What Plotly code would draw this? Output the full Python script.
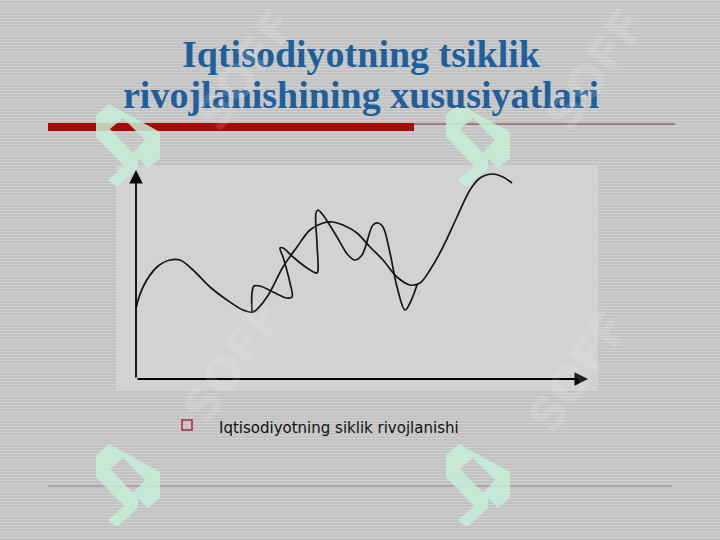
import plotly.graph_objects as go

W, H = 720, 540

# ---- data (arbitrary units, origin at the axes corner) ----
trend_x = [0, 7, 21, 34, 44, 57, 74, 91, 107, 117, 131, 147, 161, 174, 187, 197,
           207, 221, 234, 247, 261, 274, 284, 294, 307, 321, 334, 344, 357, 367, 376]
trend_y = [71, 92, 112, 119, 119, 109, 92, 79, 69, 67, 82, 112, 132, 149, 156, 157,
           154, 146, 132, 119, 102, 94, 96, 109, 132, 162, 189, 201, 205, 202, 196]
wave_x = [116, 116, 118, 124, 137, 151, 156, 154, 147, 144, 147, 157, 171, 181, 182, 181,
          180, 182, 187, 201, 212, 219, 226, 237, 242, 247, 254, 261, 269, 274, 281]
wave_y = [67, 86, 93, 93, 87, 81, 82, 96, 122, 131, 131, 122, 111, 106, 109, 136,
          166, 169, 164, 142, 124, 119, 124, 154, 156, 152, 126, 92, 69, 76, 94]
x_len = 452
y_len = 209

title_line1 = "Iqtisodiyotning tsiklik"
title_line2 = "rivojlanishining xususiyatlari"
bullet_text = "Iqtisodiyotning siklik rivojlanishi"
watermark = "SOFF"


def px(x):
    return x / W


def py(y):
    return 1 - y / H


shapes = []
# striped slide background
for k in range(0, H, 3):
    yy = py(k + 0.5)
    shapes.append(dict(type="line", xref="paper", yref="paper", x0=0, x1=1, y0=yy, y1=yy,
                       line=dict(color="#d0d0d0", width=1), layer="below"))
# chart panel
shapes.append(dict(type="rect", xref="paper", yref="paper", x0=px(116), x1=px(598),
                   y0=py(391), y1=py(166), fillcolor="#d2d2d2", line=dict(width=0), layer="below"))
# red title bar and thin rules
shapes.append(dict(type="rect", xref="paper", yref="paper", x0=px(48), x1=px(414),
                   y0=py(131), y1=py(123), fillcolor="#a80808", line=dict(width=0), layer="below"))
shapes.append(dict(type="line", xref="paper", yref="paper", x0=px(414), x1=px(675),
                   y0=py(124), y1=py(124), line=dict(color="#7a3434", width=1), layer="below"))
shapes.append(dict(type="line", xref="paper", yref="paper", x0=px(48), x1=px(672),
                   y0=py(486), y1=py(486), line=dict(color="#ad9a9c", width=1.5), layer="below"))
# bullet square
shapes.append(dict(type="rect", xref="paper", yref="paper", x0=px(182), x1=px(192),
                   y0=py(430), y1=py(420), line=dict(color="#b5243c", width=1.5),
                   fillcolor="rgba(0,0,0,0)", layer="above"))

# watermark logos
outer = [(109, 104), (160, 132), (160, 158), (148, 168), (138, 158), (138, 168),
         (117, 187), (108, 180), (124, 166), (96, 137), (96, 115)]
hole = [(110, 129), (133, 153), (145, 140), (123, 118)]


def poly(pts, dx, dy):
    s = ""
    for i, (a, b) in enumerate(pts):
        s += ("M" if i == 0 else "L") + f"{px(a + dx):.5f},{py(b + dy):.5f} "
    return s + "Z "


for dx, dy in [(0, 0), (350, 0), (0, 340), (350, 340)]:
    shapes.append(dict(type="path", xref="paper", yref="paper",
                       path=poly(outer, dx, dy) + poly(hole, dx, dy),
                       fillcolor="#c4eed6", line=dict(width=0), opacity=0.85, layer="below"))

fig = go.Figure()
fig.add_trace(go.Scatter(x=trend_x, y=trend_y, mode="lines",
                         line=dict(color="#151515", width=1.7, shape="spline", smoothing=1.0),
                         hoverinfo="skip", showlegend=False))
fig.add_trace(go.Scatter(x=wave_x, y=wave_y, mode="lines",
                         line=dict(color="#151515", width=1.7, shape="spline", smoothing=1.0),
                         hoverinfo="skip", showlegend=False))

annotations = []
# axes with arrow heads
annotations.append(dict(x=0, y=y_len, ax=0, ay=0, xref="x", yref="y", axref="x", ayref="y",
                        text="", showarrow=True, arrowhead=2, arrowsize=1.5, arrowwidth=1.8,
                        arrowcolor="#000000", standoff=0, startstandoff=0))
annotations.append(dict(x=x_len, y=0, ax=0, ay=0, xref="x", yref="y", axref="x", ayref="y",
                        text="", showarrow=True, arrowhead=2, arrowsize=1.5, arrowwidth=1.8,
                        arrowcolor="#000000", standoff=0, startstandoff=0))
# title
annotations.append(dict(x=px(361), y=py(53.5), xref="paper", yref="paper", text="<b>" + title_line1 + "</b>",
                        showarrow=False, xanchor="center", yanchor="middle",
                        font=dict(family="Liberation Serif", size=38, color="#1f5f9c")))
annotations.append(dict(x=px(361), y=py(95.5), xref="paper", yref="paper", text="<b>" + title_line2 + "</b>",
                        showarrow=False, xanchor="center", yanchor="middle",
                        font=dict(family="Liberation Serif", size=38, color="#1f5f9c")))
# bullet
annotations.append(dict(x=px(217), y=py(427.5), xref="paper", yref="paper", text=bullet_text,
                        showarrow=False, xanchor="left", yanchor="middle",
                        font=dict(family="DejaVu Sans", size=15, color="#111111")))
# faint watermark texts
for cx, cy in [(245, 70), (595, 70), (232, 362), (578, 372)]:
    annotations.append(dict(x=px(cx), y=py(cy), xref="paper", yref="paper", text="<b>" + watermark + "</b>",
                            showarrow=False, textangle=-55, opacity=0.13,
                            xanchor="center", yanchor="middle",
                            font=dict(family="DejaVu Sans", size=46, color="#ffffff")))

fig.update_layout(
    width=W, height=H, margin=dict(l=0, r=0, t=0, b=0),
    paper_bgcolor="#c2c2c2", plot_bgcolor="rgba(0,0,0,0)",
    xaxis=dict(domain=[px(136), px(588)], range=[0, x_len], visible=False, fixedrange=True),
    yaxis=dict(domain=[1 - 379 / H, 1 - 170 / H], range=[0, y_len], visible=False, fixedrange=True),
    shapes=shapes, annotations=annotations, showlegend=False,
)

fig.write_html("out.html", config={"displayModeBar": False},
               post_script="document.body.style.margin='0';document.body.style.overflow='hidden';")
